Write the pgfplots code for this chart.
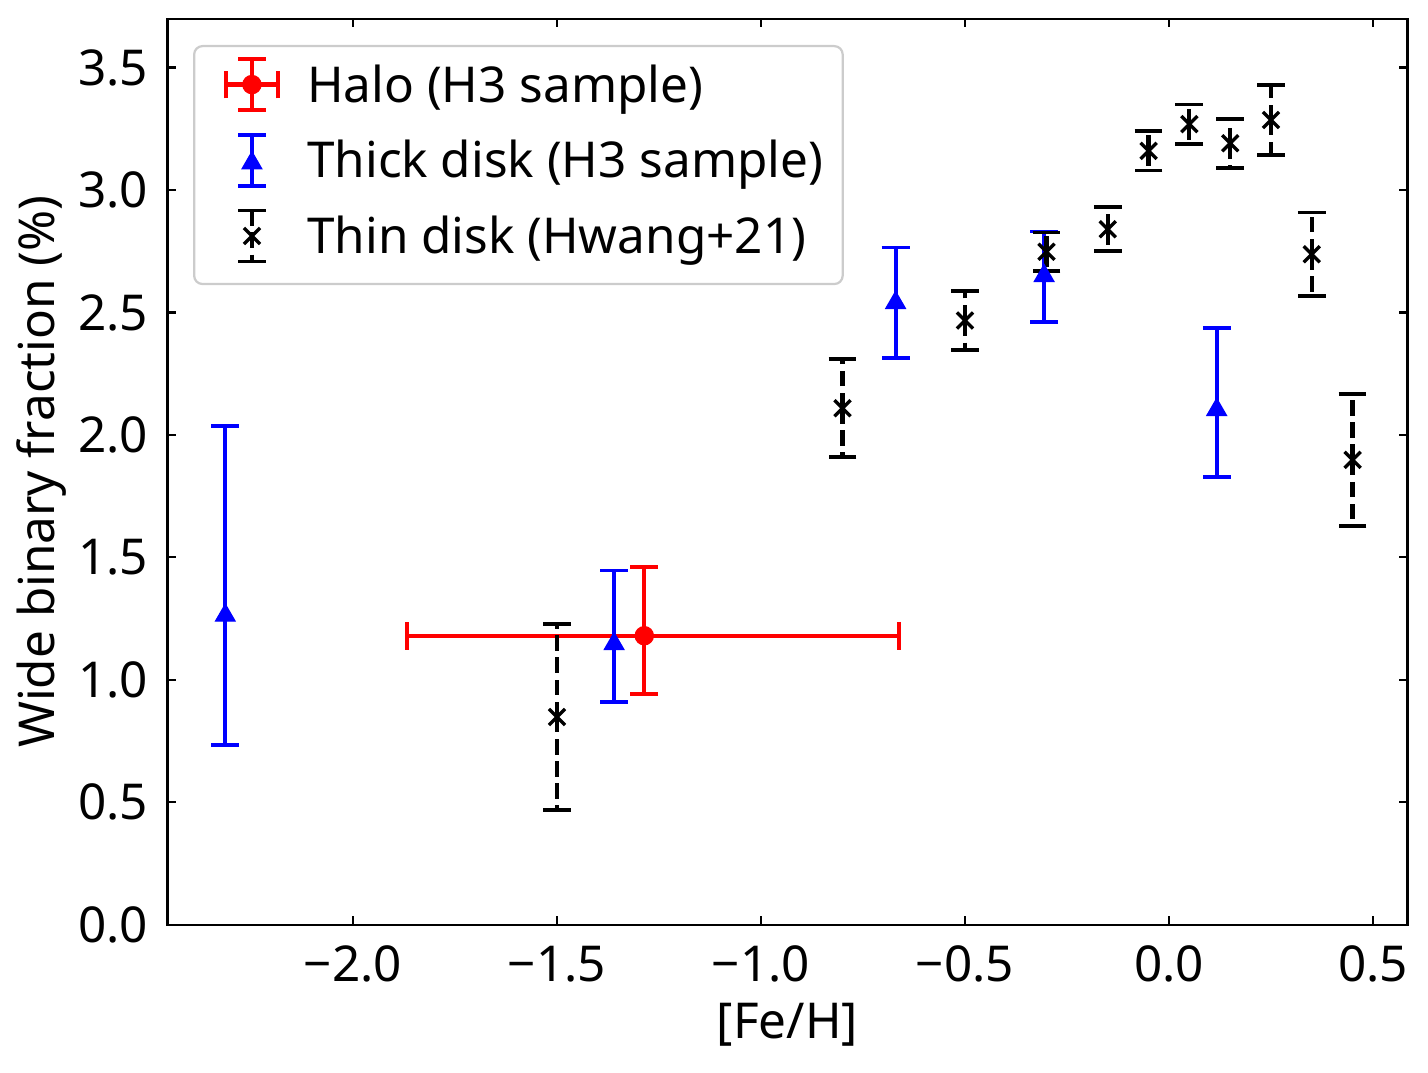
\documentclass[border=0pt]{standalone}
\usepackage{fontspec}
\setmainfont{Noto Sans}
\usepackage{pgfplots}
\pgfplotsset{compat=1.18}
\begin{document}
\fontsize{17.8bp}{21.4bp}\selectfont
\begin{tikzpicture}
\begin{axis}[
  scale only axis, width=446.4bp, height=326.2bp,
  xmin=-2.4547, xmax=0.5846, ymin=0, ymax=3.7,
  xtick={-2,-1.5,-1,-0.5,0,0.5},
  xticklabels={−2.0,−1.5,−1.0,−0.5,0.0,0.5},
  ytick={0,0.5,1,1.5,2,2.5,3,3.5},
  yticklabels={0.0,0.5,1.0,1.5,2.0,2.5,3.0,3.5},
  xtick pos=both, ytick pos=both,
  tick align=inside, major tick length=3bp,
  every tick/.style={line width=0.8bp, black},
  axis line style={line width=0.8bp},
  xticklabel style={inner sep=0pt, anchor=north, yshift=-7.4bp},
  yticklabel style={inner sep=0pt, anchor=east, xshift=-6.8bp},
  every axis x label/.style={at={([yshift=-36.2bp]rel axis cs:0.5,0)}, anchor=center, inner sep=0pt},
  every axis y label/.style={at={([xshift=-45.2bp]rel axis cs:0,0.5)}, anchor=center, rotate=90, inner sep=0pt},
  xlabel={[Fe/H]},
  ylabel={Wide binary fraction (\%)},
  legend cell align=left,
  legend style={at={(0,1)}, anchor=north west, xshift=9.2bp, yshift=-9.5bp,
    draw=black!20, line width=0.8bp, rounded corners=3bp, fill=white,
    inner xsep=7bp, inner ysep=3.9bp, row sep=3.9bp, column sep=0pt,
    nodes={inner sep=0pt, text height=12.7bp, text depth=0pt}},
]
\coordinate (bl) at (rel axis cs:0,0);
\coordinate (tr) at (rel axis cs:1,1);

% Halo
\addplot[only marks, red, mark=*, mark size=3.3bp,
  mark options={draw=red, fill=red, line width=0.4bp, solid},
  legend image code/.code={
    \path[draw=none, fill=none] (-13.8bp,-13.4bp) rectangle (19.9bp,9.9bp);
    \draw[red, line width=1.5bp, solid, sharp corners] (0,-9.2bp) -- (0,9.2bp) (-9.4bp,0) -- (9.4bp,0);
    \draw[red, line width=1.3bp, solid, sharp corners] (-5bp,-9.2bp) -- (5bp,-9.2bp) (-5bp,9.2bp) -- (5bp,9.2bp)
       (-9.4bp,-5bp) -- (-9.4bp,5bp) (9.4bp,-5bp) -- (9.4bp,5bp);
    \path[sharp corners] plot coordinates {(0bp,0bp)};
  },
  error bars/.cd, x dir=both, x explicit, y dir=both, y explicit,
  error bar style={line width=1.5bp, red},
  error mark options={rotate=90, line width=1.3bp, mark size=5bp, red}]
  coordinates {(-1.286,1.180) += (0.625,0.280) -= (0.581,0.238)};
\addlegendentry{Halo (H3 sample)}

% Thick disk
\addplot[only marks, blue, mark=triangle*, mark size=4.0bp,
  mark options={draw=blue, fill=blue, line width=0.5bp, solid, yshift=-1bp},
  legend image code/.code={
    \path[draw=none, fill=none] (-13.8bp,-13.4bp) rectangle (19.9bp,9.9bp);
    \draw[blue, line width=1.5bp, solid, sharp corners] (0,-9.2bp) -- (0,9.2bp);
    \draw[blue, line width=1.3bp, solid, sharp corners] (-5bp,-9.2bp) -- (5bp,-9.2bp) (-5bp,9.2bp) -- (5bp,9.2bp);
    \path[sharp corners] plot coordinates {(0bp,0bp)};
  },
  error bars/.cd, y dir=both, y explicit,
  error bar style={line width=1.5bp, blue},
  error mark options={rotate=90, line width=1.3bp, mark size=5bp, blue}]
  coordinates {
  (-2.313,1.274) += (0,0.763) -= (0,0.541)
  (-1.360,1.158) += (0,0.288) -= (0,0.249)
  (-0.670,2.551) += (0,0.215) -= (0,0.238)
  (-0.306,2.661) += (0,0.170) -= (0,0.201)
  (0.117,2.114) += (0,0.322) -= (0,0.287)
  };
\addlegendentry{Thick disk (H3 sample)}

% Thin disk
\addplot[only marks, black, mark=x, mark size=4.1bp,
  mark options={draw=black, line width=1.2bp, solid},
  legend image code/.code={
    \path[draw=none, fill=none] (-13.8bp,-13.4bp) rectangle (19.9bp,9.9bp);
    \draw[black, line width=1.5bp, dash pattern=on 5.55bp off 2.4bp, sharp corners] (0,9.2bp) -- (0,-9.2bp);
    \draw[black, line width=1.3bp, solid, sharp corners] (-5bp,-9.2bp) -- (5bp,-9.2bp) (-5bp,9.2bp) -- (5bp,9.2bp);
    \path[sharp corners] plot coordinates {(0bp,0bp)};
  },
  error bars/.cd, y dir=both, y explicit,
  error bar style={line width=1.5bp, black, dash pattern=on 5.55bp off 2.4bp},
  error mark options={rotate=90, line width=1.3bp, mark size=5bp, black, solid}]
  coordinates {
  (-1.50,0.848) +- (0,0.380)
  (-0.80,2.109) +- (0,0.200)
  (-0.50,2.467) +- (0,0.121)
  (-0.30,2.748) +- (0,0.079)
  (-0.15,2.840) +- (0,0.090)
  (-0.05,3.160) +- (0,0.080)
  (0.05,3.269) +- (0,0.080)
  (0.15,3.191) +- (0,0.100)
  (0.25,3.286) +- (0,0.143)
  (0.35,2.738) +- (0,0.170)
  (0.45,1.898) +- (0,0.270)
  };
\addlegendentry{Thin disk (Hwang+21)}

\end{axis}
\pgfresetboundingbox
\path ([shift={(-60.3bp,-53.1bp)}]bl) rectangle ([shift={(7.4bp,6.7bp)}]tr);
\end{tikzpicture}
\end{document}
